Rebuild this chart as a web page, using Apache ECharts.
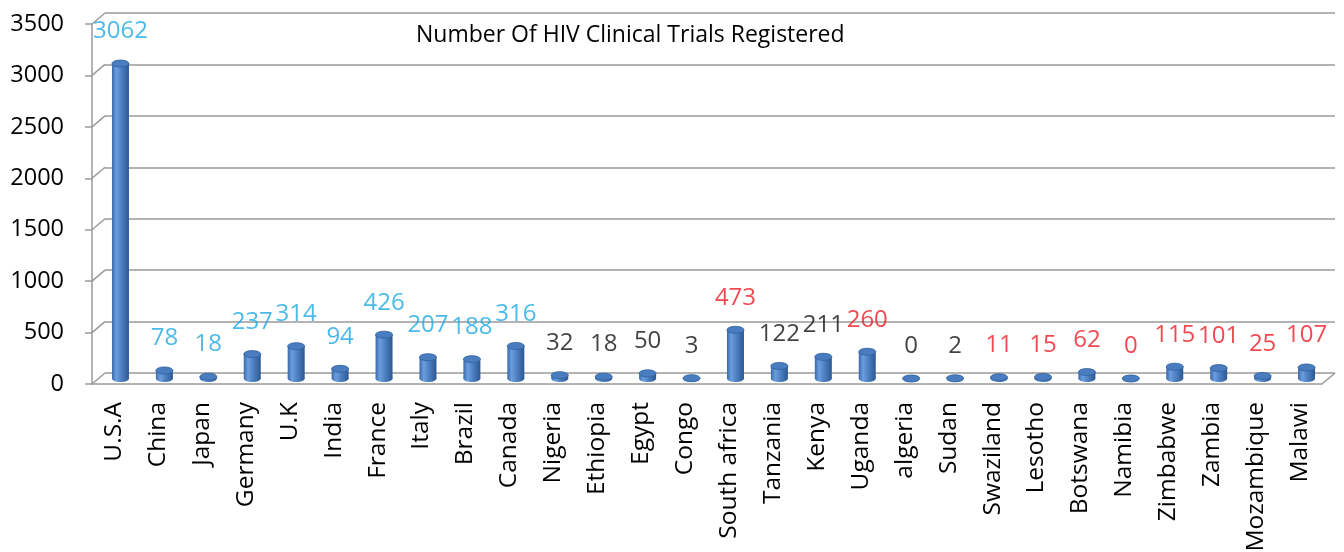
<!DOCTYPE html>
<html>
<head>
<meta charset="utf-8">
<script src="https://cdn.jsdelivr.net/npm/echarts@6/dist/echarts.min.js"></script>
<style>
html,body{margin:0;padding:0;background:#fff;}
#chart{width:1344px;height:552px;}
</style>
</head>
<body>
<div id="chart"></div>
<script>
const categories = ["U.S.A","China","Japan","Germany","U.K","India","France","Italy","Brazil","Canada","Nigeria","Ethiopia","Egypt","Congo","South africa","Tanzania","Kenya","Uganda","algeria","Sudan","Swaziland","Lesotho","Botswana","Namibia","Zimbabwe","Zambia","Mozambique","Malawi"];
const trials = [3062,78,18,237,314,94,426,207,188,316,32,18,50,3,473,122,211,260,0,2,11,15,62,0,115,101,25,107];
const labelGroup = ["b","b","b","b","b","b","b","b","b","b","k","k","k","k","r","k","k","r","k","k","r","r","r","r","r","r","r","r"];
const yTicks = [0,500,1000,1500,2000,2500,3000,3500];
const titleText = "Number Of HIV Clinical Trials Registered";

const groupColor = {b:"#1fa9e3", k:"#111111", r:"#ee1c25"};
const DX = 13, DY = 11;
const FONT = "Open Sans";

const chart = echarts.init(document.getElementById('chart'));

function cylinder(params, api){
  const i = api.value(0), v = api.value(1);
  const base = api.coord([i, 0]);
  const top = api.coord([i, v]);
  const cx = base[0] + DX/2, by = base[1] - DY/2, ty = top[1] - DY/2;
  const w = 17, rx = w/2, ry = 3.5;
  const bodyFill = new echarts.graphic.LinearGradient(0,0,1,0,[
    {offset:0,color:'#3a69a6'},{offset:0.25,color:'#6b9ee0'},
    {offset:0.55,color:'#4f81c2'},{offset:1,color:'#2b5892'}]);
  return {type:'group', children:[
    {type:'ellipse', shape:{cx:cx, cy:by, rx:rx, ry:ry}, style:{fill:bodyFill}},
    {type:'rect', shape:{x:cx-rx, y:ty, width:w, height:Math.max(0,by-ty)}, style:{fill:bodyFill}},
    {type:'ellipse', shape:{cx:cx, cy:ty, rx:rx, ry:ry}, style:{fill:'#4a7dc0', stroke:'#2f5f9c', lineWidth:0.8}}
  ]};
}

function diagonals(params, api){
  const v = api.value(0);
  const cs = params.coordSys;
  const p = api.coord([0, v]);
  const children = [{type:'line', shape:{x1:cs.x, y1:p[1], x2:cs.x+DX, y2:p[1]-DY}, style:{stroke:'#9a9a9a', lineWidth:1.5}}];
  if (v === 0) {
    children.push({type:'line', shape:{x1:cs.x+cs.width, y1:p[1], x2:cs.x+cs.width+DX, y2:p[1]-DY}, style:{stroke:'#9a9a9a', lineWidth:1.5}});
  }
  return {type:'group', children};
}

chart.setOption({
  animation:false,
  title:{
    text:titleText, left:400, top:14,
    backgroundColor:'#fff', padding:[10,20,10,16],
    textStyle:{fontFamily:FONT, fontSize:23, fontWeight:'normal', color:'#000'}
  },
  grid:[
    {left:92, right:22, top:24, bottom:168, containLabel:false, outerBoundsMode:'none'},
    {left:105, right:9, top:13, bottom:179, containLabel:false, outerBoundsMode:'none'}
  ],
  xAxis:[
    {type:'category', gridIndex:0, data:categories,
     axisLine:{lineStyle:{color:'#9a9a9a', width:1.5}},
     axisTick:{length:8, lineStyle:{color:'#9a9a9a', width:1.5}},
     axisLabel:{rotate:90, margin:18, color:'#000', fontFamily:FONT, fontSize:24.5, interval:0}},
    {type:'category', gridIndex:1, data:categories, show:false}
  ],
  yAxis:[
    {type:'value', gridIndex:0, min:0, max:3500, interval:500,
     axisLine:{show:true, lineStyle:{color:'#9a9a9a', width:1.5}},
     axisTick:{show:true, length:7, lineStyle:{color:'#9a9a9a', width:1.5}},
     splitLine:{show:false},
     axisLabel:{margin:28, color:'#000', fontFamily:FONT, fontSize:23.5, formatter:v=>String(v)}},
    {type:'value', gridIndex:1, min:0, max:3500, interval:500,
     axisLine:{show:false}, axisTick:{show:false}, axisLabel:{show:false},
     splitLine:{show:true, lineStyle:{color:'#9a9a9a', width:1.5}}}
  ],
  series:[
    {type:'custom', xAxisIndex:0, yAxisIndex:0, clip:false, silent:true,
     renderItem:diagonals, data:yTicks.map(v=>[v]), encode:{y:0}, z:1},
    {type:'custom', xAxisIndex:0, yAxisIndex:0, clip:false,
     renderItem:cylinder, data:trials.map((v,i)=>[i,v]), z:3},
    {type:'scatter', xAxisIndex:0, yAxisIndex:0, symbolSize:1, itemStyle:{color:'rgba(0,0,0,0)'},
     z:4,
     data:trials.map((v,i)=>({value:[i,v], label:{color:groupColor[labelGroup[i]]}})),
     label:{show:true, position:'top', distance:25, offset:[DX/2, 0],
       fontFamily:FONT, fontSize:24,
       formatter:p=>String(p.value[1])}}
  ]
});
</script>
</body>
</html>
